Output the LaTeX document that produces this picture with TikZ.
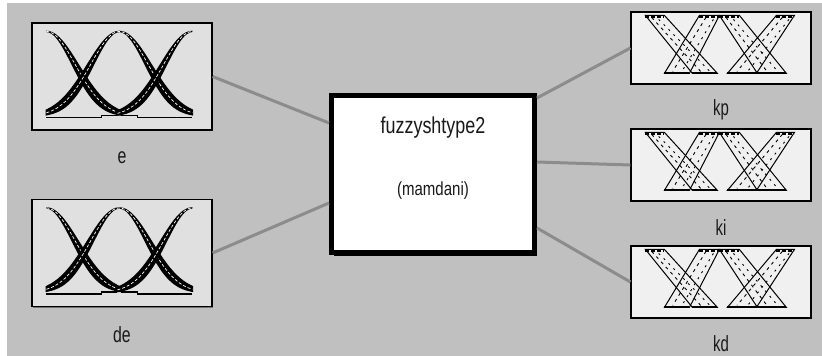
\documentclass[tikz,border=0pt]{standalone}
\usepackage{fontspec}
\setmainfont{Liberation Sans}
\usepackage{graphicx}
\usetikzlibrary{calc,shadows}
\definecolor{panelgray}{HTML}{C0C0C0}
\definecolor{wiregray}{HTML}{8C8C8C}
\definecolor{ingray}{HTML}{E0E0E0}
\definecolor{outgray}{HTML}{F0F0F0}

\begin{document}
\begin{tikzpicture}[x=1pt, y=-1pt,
    inbox/.style={draw=black, line width=1.2pt, fill=ingray, inner sep=0,
      minimum width=180pt, minimum height=107pt,
      drop shadow={shadow xshift=1pt, shadow yshift=-1pt, fill=black!55, opacity=1}},
    outbox/.style={draw=black, line width=1.2pt, fill=outgray, inner sep=0,
      minimum width=180pt, minimum height=72pt,
      drop shadow={shadow xshift=1pt, shadow yshift=-1pt, fill=black!55, opacity=1}},
    fisbox/.style={draw=black, line width=5pt, fill=white, inner sep=0,
      minimum width=203pt, minimum height=157pt,
      drop shadow={shadow xshift=2pt, shadow yshift=-3pt, fill=black, opacity=1}},
    wire/.style={wiregray, line width=3pt},
    lbl/.style={font=\fontsize{22}{22}\selectfont, text=black!90, inner sep=0, anchor=base}]
    % Panel
    \useasboundingbox (0,0) rectangle (822,356);
    \fill[white] (0,0) rectangle (822,356);
    \fill[panelgray] (7,3) rectangle (822,356);
    % Boxes
    \node[inbox] (e) at (122,76.5) {};
    \node[inbox] (de) at (122,253) {};
    \node[fisbox] (fis) at (433,174) {};
    \node[outbox] (kp) at (721,48) {};
    \node[outbox] (ki) at (721,165) {};
    \node[outbox] (kd) at (721,282) {};
    % Connection points on the system box
    \coordinate (fisE) at ($(fis.north west)+(0,30)$);
    \coordinate (fisDE) at ($(fis.north west)+(0,110)$);
    \coordinate (fisKP) at ($(fis.north east)+(0,5)$);
    \coordinate (fisKI) at ($(fis.north east)+(0,69)$);
    \coordinate (fisKD) at ($(fis.north east)+(0,135)$);
    % Wires
    \draw[wire] (e.east) -- (fisE);
    \draw[wire] (de.east) -- (fisDE);
    \draw[wire] (fisKP) -- (kp.west);
    \draw[wire] (fisKI) -- (ki.west);
    \draw[wire] (fisKD) -- (kd.west);
    % Input membership functions
    \foreach \b in {e,de} {
      \begin{scope}[shift={(\b.north west)}]
        \foreach \c/\lo/\hi in {15/15/90, 88/15/161, 161/86/161} {
          \filldraw[black, line width=1.4pt]
          plot[domain=\lo:\hi, smooth, variable=\x] ({\x}, {94-85*exp(-((\x-\c)^2)/(2*32^2))})
          -- plot[domain=\hi:\lo, smooth, variable=\x] ({\x}, {94-85*exp(-((\x-\c)^2)/(2*26^2))})
          -- cycle;
          \draw[white, line width=0.7pt, dash pattern=on 3pt off 2pt]
          plot[domain=\lo:\hi, smooth, variable=\x] ({\x}, {94-85*exp(-((\x-\c)^2)/(2*29^2))});
        }
        \draw[line width=1.2pt] (15,95) -- (70,95) -- (70,93) -- (86,93);
        \draw[line width=1.2pt] (90,93) -- (106,93) -- (106,95) -- (161,95);
      \end{scope}
    }
    % Output membership functions
    \foreach \b in {kp,ki,kd} {
      \begin{scope}[shift={(\b.north west)}]
        \foreach \ta/\tb/\ba/\bb in {15/34/62/87, 69/89/34/59, 89/109/127/156, 146/164/97/126} {
          \draw[line width=1pt] (\ta,4) -- (\tb,4) -- (\bb,62) -- (\ba,62) -- cycle;
          \draw[line width=0.9pt, dash pattern=on 3pt off 4pt]
          ({\ta+0.33*(\tb-\ta)},6) -- ({\ba+0.33*(\bb-\ba)},60);
          \draw[line width=0.9pt, dash pattern=on 2pt off 5pt]
          ({\ta+0.7*(\tb-\ta)},8) -- ({\ba+0.7*(\bb-\ba)},60);
          \draw[line width=2.5pt, dash pattern=on 4pt off 2pt] (\ta,5) -- (\tb,5);
          \draw[line width=1.4pt] (\ba,61.5) -- (\bb,61.5);
        }
      \end{scope}
    }
    % Labels
    \node[lbl, font=\fontsize{23}{23}\selectfont] (fisname) at ($(fis.north)+(0,40)$) {\scalebox{0.78}[1]{fuzzyshtype2}};
    \node[lbl, font=\fontsize{19}{19}\selectfont] (fistype) at ($(fis.north)+(0,102)$) {\scalebox{0.79}[1]{(mamdani)}};
    \node[lbl] (elbl) at ($(e.south)+(0,33)$) {\scalebox{0.72}[1]{e}};
    \node[lbl] (delbl) at ($(de.south)+(0,35)$) {\scalebox{0.72}[1]{de}};
    \node[lbl] (kplbl) at ($(kp.south)+(0,31)$) {\scalebox{0.68}[1]{kp}};
    \node[lbl] (kilbl) at ($(ki.south)+(0,34)$) {\scalebox{0.68}[1]{ki}};
    \node[lbl] (kdlbl) at ($(kd.south)+(0,33)$) {\scalebox{0.68}[1]{kd}};
\end{tikzpicture}
\end{document}
